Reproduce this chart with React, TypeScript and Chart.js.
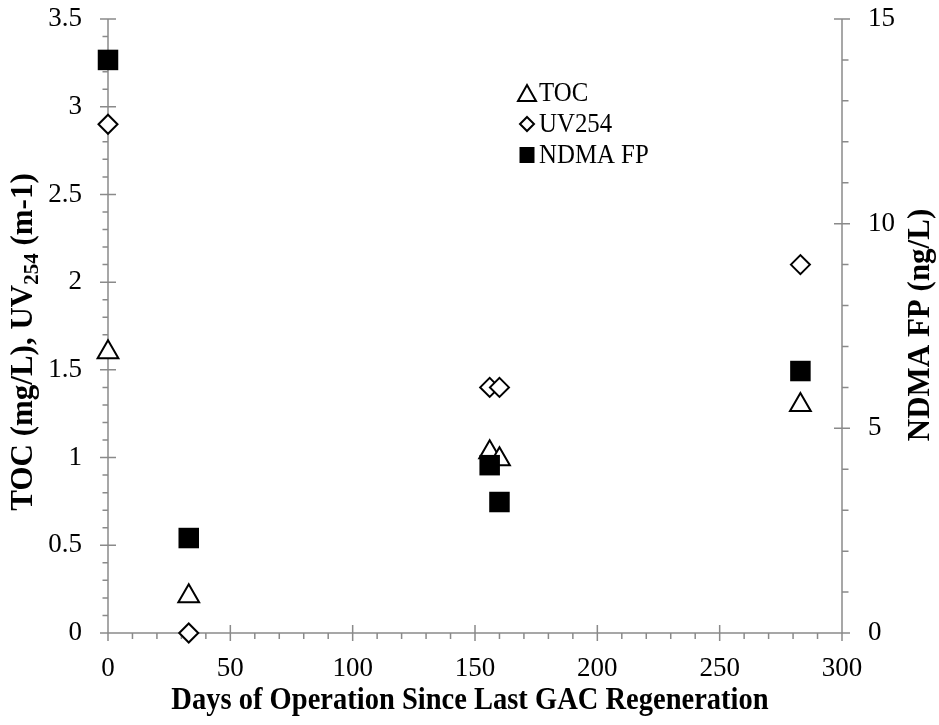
import React, { useEffect, useRef } from 'react';
import { Chart, registerables } from 'chart.js';

Chart.register(...registerables);

// ---- Data ----
const days = [0, 33, 156, 160, 283];
const tocValues = [1.6, 0.21, 1.03, 0.99, 1.3];
const uv254Values = [2.9, 0.0, 1.4, 1.4, 2.1];
const ndmaFpValues = [14.0, 2.32, 4.1, 3.2, 6.4];

const xTicks = [0, 50, 100, 150, 200, 250, 300];
const yLeftTicks = [0, 0.5, 1, 1.5, 2, 2.5, 3, 3.5];
const yRightTicks = [0, 5, 10, 15];
const xMinorStep = 10;
const yLeftMinorStep = 0.1;
const yRightMinorStep = 1;

const legendLabels = ['TOC', 'UV254', 'NDMA FP'];
const xTitle = 'Days of Operation Since Last GAC Regeneration';
const yLeftTitleParts = ['TOC (mg/L), UV', '254', ' (m-1)'];
const yRightTitle = 'NDMA FP (ng/L)';

const SERIF = "'Liberation Serif', 'Times New Roman', serif";
const AXIS_COLOR = '#8a8a8a';
const SQUEEZE = 0.92;

function minorValues(min: number, max: number, step: number): number[] {
  const out: number[] = [];
  const n = Math.round((max - min) / step);
  for (let i = 0; i <= n; i++) out.push(min + i * step);
  return out;
}

const axesPlugin = {
  id: 'customAxes',
  beforeDatasetsDraw(chart: any) {
    const { ctx, chartArea: a, scales } = chart;
    const x = scales.x, y = scales.y, y2 = scales.y2;
    ctx.save();
    ctx.strokeStyle = AXIS_COLOR;
    ctx.lineWidth = 1.5;
    ctx.beginPath();
    ctx.moveTo(a.left, a.top); ctx.lineTo(a.left, a.bottom);
    ctx.moveTo(a.right, a.top); ctx.lineTo(a.right, a.bottom);
    ctx.moveTo(a.left, a.bottom); ctx.lineTo(a.right, a.bottom);
    for (const v of minorValues(y.min, y.max, yLeftMinorStep)) {
      const p = y.getPixelForValue(v);
      ctx.moveTo(a.left - 5.5, p); ctx.lineTo(a.left, p);
    }
    for (const v of minorValues(y2.min, y2.max, yRightMinorStep)) {
      const p = y2.getPixelForValue(v);
      ctx.moveTo(a.right, p); ctx.lineTo(a.right + 6.5, p);
    }
    for (const v of minorValues(x.min, x.max, xMinorStep)) {
      const p = x.getPixelForValue(v);
      ctx.moveTo(p, a.bottom); ctx.lineTo(p, a.bottom + 6);
    }
    for (const v of yLeftTicks) {
      const p = y.getPixelForValue(v);
      ctx.moveTo(a.left - 8, p); ctx.lineTo(a.left + 8, p);
    }
    for (const v of yRightTicks) {
      const p = y2.getPixelForValue(v);
      ctx.moveTo(a.right - 8, p); ctx.lineTo(a.right + 8, p);
    }
    for (const v of xTicks) {
      const p = x.getPixelForValue(v);
      ctx.moveTo(p, a.bottom - 8); ctx.lineTo(p, a.bottom + 8);
    }
    ctx.stroke();
    ctx.restore();
  },
};

function drawMarker(ctx: CanvasRenderingContext2D, kind: string, cx: number, cy: number, w: number, h: number) {
  ctx.beginPath();
  if (kind === 'triangle') {
    ctx.moveTo(cx, cy - h / 2);
    ctx.lineTo(cx + w / 2, cy + h / 2);
    ctx.lineTo(cx - w / 2, cy + h / 2);
    ctx.closePath();
    ctx.fillStyle = '#fff';
    ctx.fill();
    ctx.lineWidth = 2;
    ctx.strokeStyle = '#000';
    ctx.stroke();
  } else if (kind === 'diamond') {
    ctx.moveTo(cx, cy - h / 2);
    ctx.lineTo(cx + w / 2, cy);
    ctx.lineTo(cx, cy + h / 2);
    ctx.lineTo(cx - w / 2, cy);
    ctx.closePath();
    ctx.fillStyle = '#fff';
    ctx.fill();
    ctx.lineWidth = 2;
    ctx.strokeStyle = '#000';
    ctx.stroke();
  } else {
    ctx.rect(cx - w / 2, cy - h / 2, w, h);
    ctx.fillStyle = '#000';
    ctx.fill();
  }
}

function squeezedText(ctx: CanvasRenderingContext2D, text: string, x: number, y: number, align: 'left' | 'center') {
  ctx.save();
  ctx.translate(x, y);
  ctx.scale(SQUEEZE, 1);
  ctx.textAlign = align;
  ctx.fillText(text, 0, 0);
  ctx.restore();
}

const legendPlugin = {
  id: 'customLegend',
  afterDraw(chart: any) {
    const { ctx } = chart;
    ctx.save();
    const kinds = ['triangle', 'diamond', 'square'];
    const ws = [18, 14, 15];
    const hs = [16, 14, 16];
    const ys = [93, 124, 155];
    ctx.font = `27px ${SERIF}`;
    ctx.textBaseline = 'middle';
    legendLabels.forEach((label, i) => {
      drawMarker(ctx, kinds[i], 527, ys[i], ws[i], hs[i]);
      ctx.fillStyle = '#000';
      squeezedText(ctx, label, 539, ys[i] + 1, 'left');
    });
    ctx.restore();
  },
};

const titlesPlugin = {
  id: 'customTitles',
  afterDraw(chart: any) {
    const { ctx } = chart;
    ctx.save();
    ctx.fillStyle = '#000';
    // x title
    ctx.font = `bold 31px ${SERIF}`;
    ctx.textBaseline = 'middle';
    squeezedText(ctx, xTitle, 470, 701, 'center');

    // left title (rotated)
    const big = `bold 31px ${SERIF}`;
    const small = `bold 21px ${SERIF}`;
    ctx.save();
    ctx.translate(32, 342);
    ctx.rotate(-Math.PI / 2);
    ctx.textAlign = 'left';
    ctx.textBaseline = 'alphabetic';
    const fonts = [big, small, big];
    const offs = [0, 6, 0];
    let total = 0;
    const widths = yLeftTitleParts.map((t, i) => {
      ctx.font = fonts[i];
      const w = ctx.measureText(t).width;
      total += w;
      return w;
    });
    let xp = -total / 2;
    yLeftTitleParts.forEach((t, i) => {
      ctx.font = fonts[i];
      ctx.fillText(t, xp, offs[i]);
      xp += widths[i];
    });
    ctx.restore();

    // right title (rotated, bottom-to-top)
    ctx.save();
    ctx.translate(929, 325);
    ctx.rotate(-Math.PI / 2);
    ctx.font = `bold 31px ${SERIF}`;
    ctx.textAlign = 'center';
    ctx.textBaseline = 'alphabetic';
    ctx.fillText(yRightTitle, 0, 0);
    ctx.restore();

    ctx.restore();
  },
};

function zeroPad(s: any) {
  s.paddingTop = 0;
  s.paddingBottom = 0;
  s.paddingLeft = 0;
  s.paddingRight = 0;
}

export default function App() {
  const canvasRef = useRef<HTMLCanvasElement | null>(null);

  useEffect(() => {
    const canvas = canvasRef.current;
    if (!canvas) return;
    const tickFont = { family: SERIF, size: 27 };
    const fmt = (v: any) => String(v);
    const chart = new Chart(canvas, {
      type: 'scatter',
      data: {
        datasets: [
          {
            label: legendLabels[2],
            data: days.map((d, i) => ({ x: d, y: ndmaFpValues[i] })),
            yAxisID: 'y2',
            pointStyle: 'rect',
            pointRadius: 14.5,
            pointBackgroundColor: '#000',
            pointBorderColor: '#000',
            pointBorderWidth: 0,
            clip: false,
            order: 0,
          },
          {
            label: legendLabels[0],
            data: days.map((d, i) => ({ x: d, y: tocValues[i] })),
            yAxisID: 'y',
            pointStyle: 'triangle',
            pointRadius: 12,
            pointBackgroundColor: '#fff',
            pointBorderColor: '#000',
            pointBorderWidth: 2,
            clip: false,
            order: 1,
          },
          {
            label: legendLabels[1],
            data: days.map((d, i) => ({ x: d, y: uv254Values[i] })),
            yAxisID: 'y',
            pointStyle: 'rectRot',
            pointRadius: 9.5,
            pointBackgroundColor: '#fff',
            pointBorderColor: '#000',
            pointBorderWidth: 2,
            clip: false,
            order: 2,
          },
        ],
      },
      options: {
        responsive: false,
        animation: false,
        layout: { padding: { top: 19, left: 0, right: 0, bottom: 0 } },
        plugins: {
          legend: { display: false },
          tooltip: { enabled: false },
        },
        scales: {
          x: {
            type: 'linear',
            position: 'bottom',
            min: 0,
            max: 300,
            grid: { display: false, drawTicks: false },
            border: { display: false },
            ticks: { font: tickFont, color: '#000', padding: 20, callback: fmt, maxRotation: 0 },
            afterBuildTicks: (s: any) => { s.ticks = xTicks.map((v) => ({ value: v })); },
            afterFit: (s: any) => { s.height = 92; zeroPad(s); },
          },
          y: {
            type: 'linear',
            position: 'left',
            min: 0,
            max: 3.5,
            grid: { display: false, drawTicks: false },
            border: { display: false },
            ticks: { font: tickFont, color: '#000', padding: 26, callback: fmt },
            afterBuildTicks: (s: any) => { s.ticks = yLeftTicks.map((v) => ({ value: v })); },
            afterFit: (s: any) => { s.width = 108; zeroPad(s); },
          },
          y2: {
            type: 'linear',
            position: 'right',
            min: 0,
            max: 15,
            grid: { display: false, drawTicks: false },
            border: { display: false },
            ticks: { font: tickFont, color: '#000', padding: 26, callback: fmt },
            afterBuildTicks: (s: any) => { s.ticks = yRightTicks.map((v) => ({ value: v })); },
            afterFit: (s: any) => { s.width = 97; zeroPad(s); },
          },
        },
      },
      plugins: [axesPlugin, legendPlugin, titlesPlugin],
    } as any);
    return () => chart.destroy();
  }, []);

  return (
    <div style={{ position: 'absolute', left: 0, top: 0, width: 939, height: 725, background: '#fff' }}>
      <canvas ref={canvasRef} width={939} height={725} style={{ display: 'block' }} />
    </div>
  );
}
